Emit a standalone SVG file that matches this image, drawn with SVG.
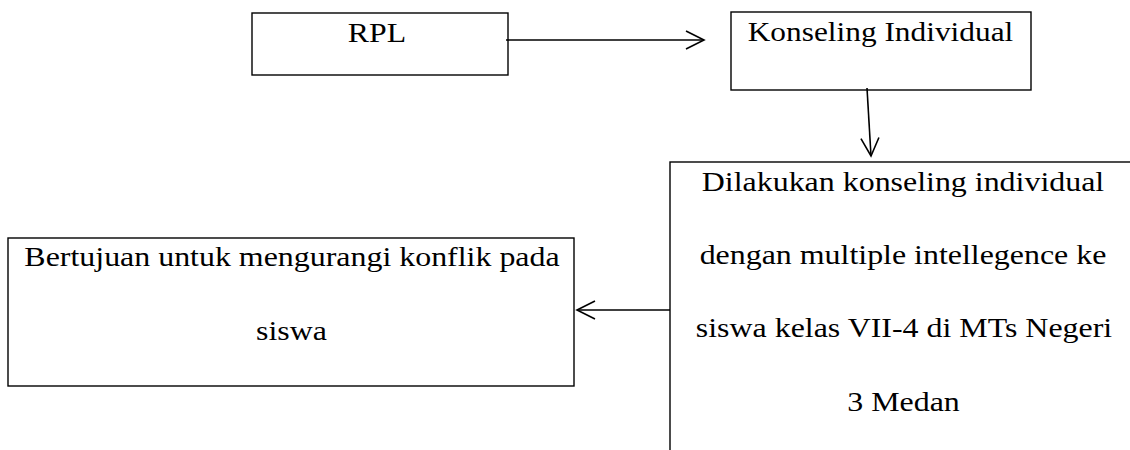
<svg xmlns="http://www.w3.org/2000/svg" width="1130" height="450" viewBox="0 0 1130 450">
  <style>
    .box { fill: #ffffff; stroke: #000000; stroke-width: 1.4; }
    .lbl { font-family: 'Liberation Serif', 'Times New Roman', serif; font-size: 28px; fill: #000000; text-anchor: middle; }
    .conn { fill: none; stroke: #000000; stroke-width: 1.6; }
  </style>
  <defs>
    <marker id="open" markerUnits="userSpaceOnUse" markerWidth="22" markerHeight="24" refX="19" refY="10" orient="auto">
      <path d="M1,1 L19,10 L1,19" fill="none" stroke="#000000" stroke-width="1.6"/>
    </marker>
  </defs>
  <rect width="1130" height="450" fill="#ffffff"/>

  <g id="node-rpl">
    <rect class="box" x="252" y="13" width="256" height="62"/>
    <text class="lbl" transform="translate(377 42) scale(1.135 1)">RPL</text>
  </g>

  <g id="node-konseling">
    <rect class="box" x="731" y="12" width="300" height="78"/>
    <text class="lbl" transform="translate(880.5 41) scale(1.12 1)">Konseling Individual</text>
  </g>

  <g id="node-dilakukan">
    <rect class="box" x="670" y="162" width="520" height="340"/>
    <text class="lbl" transform="translate(903 191) scale(1.14 1)">Dilakukan konseling individual</text>
    <text class="lbl" transform="translate(903 264) scale(1.14 1)">dengan multiple intellegence ke</text>
    <text class="lbl" transform="translate(904 337) scale(1.14 1)">siswa kelas VII-4 di MTs Negeri</text>
    <text class="lbl" transform="translate(903.5 411) scale(1.14 1)">3 Medan</text>
  </g>

  <g id="node-bertujuan">
    <rect class="box" x="8" y="238" width="566" height="148"/>
    <text class="lbl" transform="translate(292 266) scale(1.14 1)">Bertujuan untuk mengurangi konflik pada</text>
    <text class="lbl" transform="translate(291.5 340) scale(1.14 1)">siswa</text>
  </g>

  <g id="connectors">
    <line class="conn" x1="506" y1="40" x2="704" y2="40" marker-end="url(#open)"/>
    <line class="conn" x1="867" y1="88" x2="871" y2="156" marker-end="url(#open)"/>
    <line class="conn" x1="670" y1="310" x2="577" y2="310" marker-end="url(#open)"/>
  </g>
</svg>
